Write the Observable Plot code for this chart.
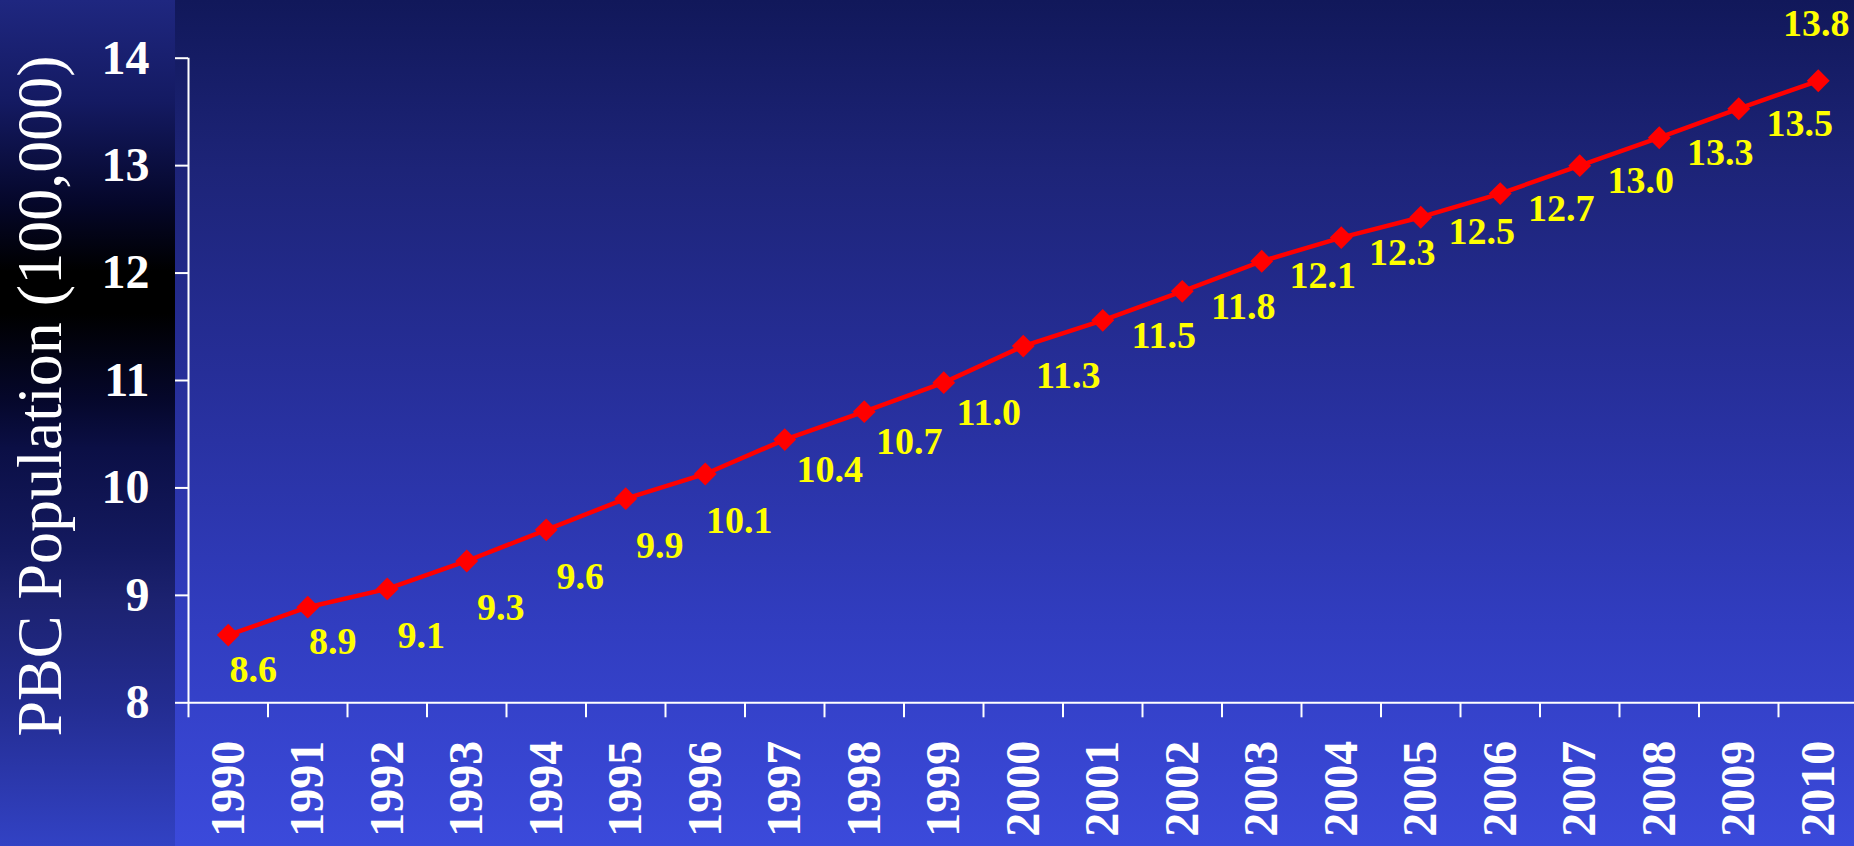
<!DOCTYPE html>
<html>
<head>
<meta charset="utf-8">
<script src="https://cdn.jsdelivr.net/npm/d3@7"></script>
<script src="https://cdn.jsdelivr.net/npm/@observablehq/plot@0.6"></script>
<style>
  html, body { margin: 0; padding: 0; overflow: hidden; background: #11185a; }
  #chart {
    position: relative;
    width: 1854px;
    height: 846px;
    background:
      linear-gradient(to bottom, #1f2780 0%, #141a62 12%, #05072a 24%, #000000 32%, #000000 37%, #05072a 47%, #0b0f45 53%, #141a60 65%, #1c2270 71%, #232c90 83%, #3242c4 100%) left top / 175px 100% no-repeat,
      linear-gradient(to bottom, #11185a 0%, #1d2478 20%, #262e98 44%, #313dc0 74%, #3b4adb 100%);
  }
  #chart svg { display: block; }
</style>
</head>
<body>
<div id="chart"></div>
<script>
// ---- data ----
const years = [1990, 1991, 1992, 1993, 1994, 1995, 1996, 1997, 1998, 1999, 2000,
               2001, 2002, 2003, 2004, 2005, 2006, 2007, 2008, 2009, 2010];
const population = [8.63, 8.89, 9.06, 9.32, 9.61, 9.90, 10.13, 10.45, 10.71, 10.98, 11.32,
                    11.56, 11.83, 12.11, 12.33, 12.52, 12.74, 13.00, 13.26, 13.53, 13.79];
const valueLabels = ["8.6", "8.9", "9.1", "9.3", "9.6", "9.9", "10.1", "10.4", "10.7", "11.0", "11.3",
                     "11.5", "11.8", "12.1", "12.3", "12.5", "12.7", "13.0", "13.3", "13.5", "13.8"];
const yTicks = [8, 9, 10, 11, 12, 13, 14];
const yTitle = "PBC Population (100,000)";

const data = years.map((year, i) => ({year, value: population[i], label: valueLabels[i]}));
const boundaries = [...years.map(y => y - 0.5), years[years.length - 1] + 0.5];

// label placement (layout only)
const placements = [
  {from: 1990, to: 1991, dx: 25, dy: 35},
  {from: 1992, to: 1996, dx: 34, dy: 47},
  {from: 1997, to: 2000, dx: 45, dy: 30},
  {from: 2001, to: 2009, dx: 61, dy: 15},
  {from: 2010, to: 2010, dx: -2, dy: -57}
];

const serif = "'Liberation Serif', 'Times New Roman', Times, serif";

const labelMarks = placements.map(p =>
  Plot.text(data.filter(d => d.year >= p.from && d.year <= p.to), {
    x: "year", y: "value", text: "label",
    dx: p.dx, dy: p.dy,
    fill: "#ffff00", fontSize: 38, fontWeight: "bold", fontFamily: serif
  })
);

const chart = Plot.plot({
  width: 1854,
  height: 846,
  marginLeft: 188,
  marginRight: 0,
  marginTop: 57.7,
  marginBottom: 143.7,
  style: {background: "transparent", fontFamily: serif, color: "white", overflow: "visible"},
  x: {type: "linear", domain: [1989.5, 2010.5], range: [188, 1857.5], label: null},
  y: {type: "linear", domain: [8, 14], range: [702.3, 57.7], label: null},
  marks: [
    // y title
    Plot.text([yTitle], {
      frameAnchor: "left", textAnchor: "middle", rotate: -90, dx: -147.5, dy: 15.5,
      fill: "white", fontSize: 64, fontFamily: serif
    }),
    // y axis
    Plot.axisY({
      ticks: yTicks, tickSize: 13, tickPadding: 26, tickFormat: d3.format("d"),
      stroke: "white", strokeWidth: 2, fill: "white",
      fontSize: 48, fontWeight: "bold", fontFamily: serif, label: null
    }),
    // category boundary ticks
    Plot.axisX({
      ticks: boundaries, tickSize: 15, tickFormat: () => "",
      stroke: "white", strokeWidth: 2, label: null
    }),
    // year labels
    Plot.axisX({
      ticks: years, tickSize: 0, tickPadding: 38, tickRotate: -90,
      tickFormat: d => String(d), fill: "white",
      fontSize: 48, fontWeight: "bold", fontFamily: serif, label: null
    }),
    // axis lines
    Plot.ruleX([1989.5], {stroke: "white", strokeWidth: 2}),
    Plot.ruleY([8], {stroke: "white", strokeWidth: 2}),
    // data
    Plot.line(data, {x: "year", y: "value", stroke: "#ff0000", strokeWidth: 4.5}),
    Plot.dot(data, {x: "year", y: "value", symbol: "diamond2", r: 10.3, fill: "#ff0000", stroke: "none"}),
    ...labelMarks
  ]
});

document.getElementById("chart").appendChild(chart);
</script>
</body>
</html>
